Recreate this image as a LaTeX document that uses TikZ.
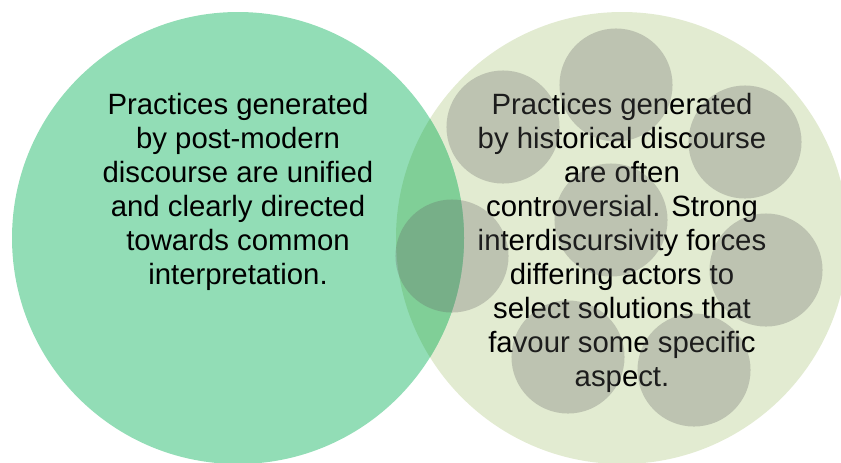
\documentclass[tikz,border=0pt]{standalone}
\usepackage{fontspec}
\setmainfont{Liberation Sans}
\definecolor{leftgreen}{RGB}{146,221,182}
\definecolor{rightgreen}{RGB}{226,235,209}
\definecolor{overlapgreen}{RGB}{128,207,151}
\definecolor{dotgray}{RGB}{100,100,100}
\begin{document}
\begin{tikzpicture}[x=0.75pt,y=-0.75pt,
  big text/.style={align=center,font=\fontsize{22}{25.5}\selectfont,inner sep=0pt,anchor=north},
  small disc/.style={fill=dotgray,fill opacity=0.29}]

  \useasboundingbox (0,0) rectangle (841,462);
  \clip (0,0) rectangle (841,462);

  \coordinate (lc) at (238,238);
  \coordinate (rc) at (622,238);

  \fill[rightgreen] (rc) circle[radius=169.5pt];
  \fill[leftgreen] (lc) circle[radius=169.5pt];
  \begin{scope}
    \clip (rc) circle[radius=169.5pt];
    \fill[overlapgreen] (lc) circle[radius=169.5pt];
  \end{scope}

  \node[big text] (lefttext) at (238,93) {Practices generated\\by post-modern\\discourse are unified\\and clearly directed\\towards common\\interpretation.};
  \node[big text] (righttext) at (622,93) {Practices generated\\by historical discourse\\are often\\controversial. Strong\\interdiscursivity forces\\differing actors to\\select solutions that\\favour some specific\\aspect.};

  \foreach \cx/\cy in {616/85, 503/127, 745/142, 611/220, 452/256, 766/270, 568/357, 694/370}
    \fill[small disc] (\cx,\cy) circle[radius=42.4pt];
\end{tikzpicture}
\end{document}
